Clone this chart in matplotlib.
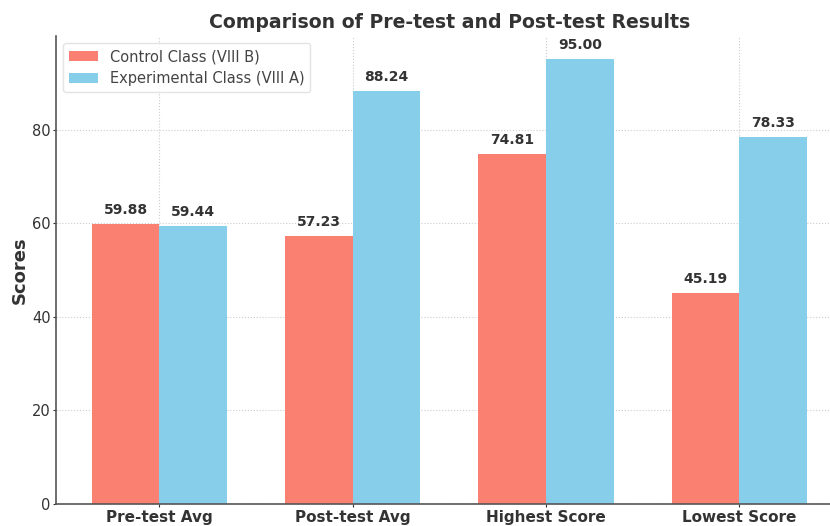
import matplotlib
matplotlib.use("Agg")
import matplotlib.pyplot as plt
import numpy as np

categories = ["Pre-test Avg", "Post-test Avg", "Highest Score", "Lowest Score"]
control = [59.88, 57.23, 74.81, 45.19]
experimental = [59.44, 88.24, 95.00, 78.33]
series_names = ["Control Class (VIII B)", "Experimental Class (VIII A)"]

text_color = "#333333"
fig = plt.figure(figsize=(8.3, 5.26), dpi=100)
ax = fig.add_axes([0.0675, 0.0418, 0.948, 0.8898])

x = np.arange(len(categories))
w = 0.35
b1 = ax.bar(x - w/2, control, w, color="salmon", label=series_names[0], zorder=2)
b2 = ax.bar(x + w/2, experimental, w, color="skyblue", label=series_names[1], zorder=2)

for bars in (b1, b2):
    for r in bars:
        h = r.get_height()
        ax.annotate(f"{h:.2f}", (r.get_x() + r.get_width()/2, h), xytext=(0, 5),
                    textcoords="offset points", ha="center", va="bottom",
                    fontsize=10, fontweight="bold", color=text_color)

ax.set_xticks(x)
ax.set_xticklabels(categories, fontsize=11, fontweight="bold", color=text_color)
ax.set_ylim(0, 100)
ax.set_xlim(-0.535, 3.535)
ax.set_yticks([0, 20, 40, 60, 80])
ax.tick_params(axis="y", labelsize=10.5, colors=text_color, length=2.5, width=0.8, pad=1.5)
ax.tick_params(axis="x", length=2.5, width=0.8, color=text_color, pad=1.5)
ax.set_ylabel("Scores", fontsize=13, fontweight="bold", color=text_color, labelpad=2)
ax.set_title("Comparison of Pre-test and Post-test Results", fontsize=13.6,
             fontweight="bold", color=text_color, pad=6)
ax.grid(True, linestyle=":", color="#cccccc", linewidth=0.8, zorder=0)
ax.set_axisbelow(True)
for s in ("top", "right"):
    ax.spines[s].set_visible(False)
for s in ("left", "bottom"):
    ax.spines[s].set_color("#555555")
    ax.spines[s].set_linewidth(1.2)
leg = ax.legend(loc="upper left", fontsize=10.5, frameon=True, labelcolor="#444444")
leg.get_frame().set_edgecolor("#dddddd")

fig.savefig("out.png", dpi=100)
